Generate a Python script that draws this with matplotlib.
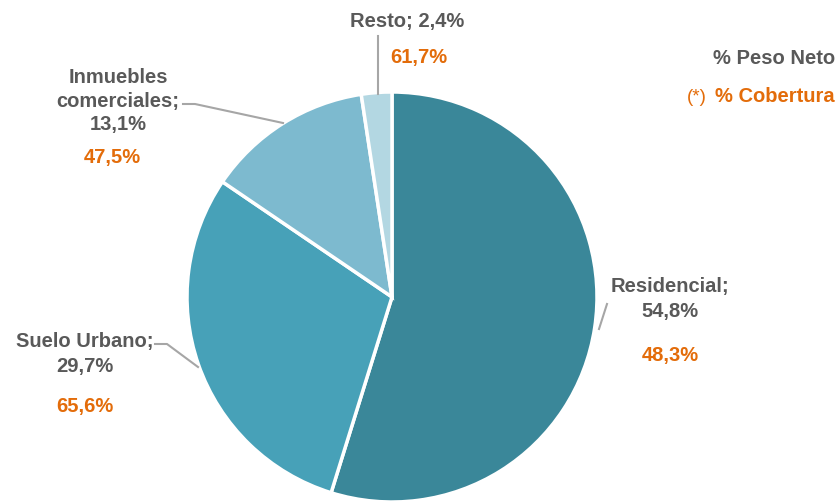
import matplotlib
matplotlib.use("Agg")
import matplotlib.pyplot as plt
from matplotlib import font_manager

categories = ["Residencial", "Suelo Urbano", "Inmuebles\ncomerciales", "Resto"]
peso_neto = [54.8, 29.7, 13.1, 2.4]
cobertura = [48.3, 65.6, 47.5, 61.7]
colors = ["#3A8799", "#47A1B8", "#7DBACF", "#B3D7E2"]

names = {f.name for f in font_manager.fontManager.ttflist}
fam = ["Liberation Sans Narrow", "Liberation Sans", "DejaVu Sans"]
fam = [f for f in fam if f in names] or ["DejaVu Sans"]
plt.rcParams['font.family'] = fam

GRAY = "#595959"
ORANGE = "#E36C0A"
LINE = "#A6A6A6"

W, H = 837, 502
fig = plt.figure(figsize=(W / 100, H / 100), dpi=100)
ax = fig.add_axes([0, 0, 1, 1])
ax.set_xlim(0, W)
ax.set_ylim(0, H)
ax.set_aspect('equal')
ax.axis('off')

cx, cy, r = 392, H - 298, 205
ax.pie(peso_neto, colors=colors, startangle=90, counterclock=False,
       center=(cx, cy), radius=r,
       wedgeprops=dict(edgecolor="white", linewidth=2.5))
ax.set_xlim(0, W)
ax.set_ylim(0, H)

def fmt(v):
    return f"{v:.1f}%".replace(".", ",")

fs = 14.5
def label(x, y, text, color=GRAY, ls=1.4):
    ax.text(x, H - y, text, ha="center", va="center", fontsize=fs,
            fontweight="bold", color=color, linespacing=ls)

# Residencial
label(670, 299, f"{categories[0]};\n{fmt(peso_neto[0])}")
label(670, 355, fmt(cobertura[0]), ORANGE)
ax.plot([599, 607], [H - 330, H - 305], color=LINE, lw=1.5)

# Suelo Urbano
label(85, 354, f"{categories[1]};\n{fmt(peso_neto[1])}")
label(85, 407, fmt(cobertura[1]), ORANGE)
ax.plot([155, 167, 198], [H - 345, H - 345, H - 368], color=LINE, lw=1.5)

# Inmuebles comerciales
label(118, 101, "Inmuebles\ncomerciales;\n" + fmt(peso_neto[2]), ls=1.3)
label(112, 157, fmt(cobertura[2]), ORANGE)
ax.plot([183, 195, 283], [H - 105, H - 105, H - 124], color=LINE, lw=1.5)

# Resto
label(407, 22, f"{categories[3]}; {fmt(peso_neto[3])}")
label(419, 58, fmt(cobertura[3]), ORANGE)
ax.plot([378, 378], [H - 37, H - 95], color=LINE, lw=1.5)

# Legend text
ax.text(835, H - 58, "% Peso Neto", ha="right", va="center", fontsize=fs,
        fontweight="bold", color=GRAY)
ax.text(835, H - 97, "% Cobertura", ha="right", va="center", fontsize=fs,
        fontweight="bold", color=ORANGE)
ax.text(707, H - 97, "(*)", ha="right", va="center", fontsize=fs - 1,
        color=ORANGE)

fig.savefig("out.png", dpi=100)
